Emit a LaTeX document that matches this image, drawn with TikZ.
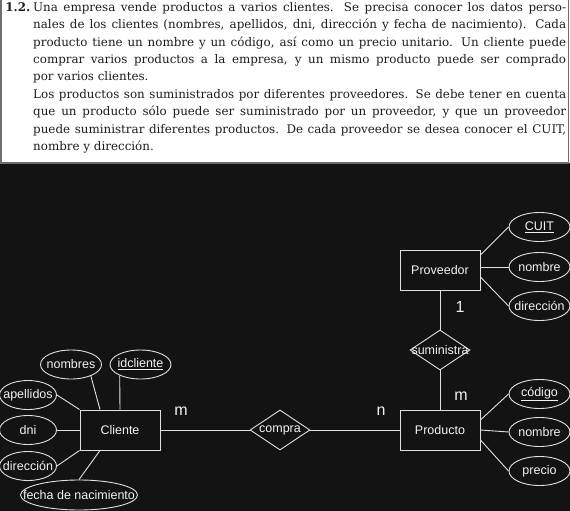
\documentclass[tikz,border=0pt]{standalone}
\usepackage{fontspec}
\setsansfont{Liberation Sans}
\newfontfamily\enunciadofont{DejaVu Serif}
\usetikzlibrary{
  shapes.geometric,
  positioning,
  calc
}
\definecolor{fondocolor}{RGB}{19, 19, 19}
\definecolor{trazocolor}{RGB}{225, 225, 225}
\definecolor{textocolor}{RGB}{242, 242, 242}
\definecolor{bordecolor}{RGB}{110, 110, 110}
\definecolor{enunciadocolor}{RGB}{30, 30, 30}
\newcommand{\etq}[1]{\makebox[0pt]{#1}}
\newcommand{\renglon}[1]{\hbox to 533pt{#1}}
\tikzset{
erfont/.style={
  font=\sffamily\fontsize{12.5}{14}\selectfont,
  text=textocolor
},
entidad/.style={
  draw=trazocolor,
  line width=0.9pt,
  minimum width=80pt,
  minimum height=40pt,
  inner sep=0pt,
  erfont
},
relacion/.style={
  diamond,
  draw=trazocolor,
  line width=0.9pt,
  minimum width=60pt,
  minimum height=40pt,
  inner sep=0pt,
  erfont
},
atributo/.style={
  ellipse,
  draw=trazocolor,
  line width=0.9pt,
  minimum width=61pt,
  minimum height=29pt,
  inner sep=0pt,
  erfont
},
cardinal/.style={
  font=\sffamily\fontsize{16}{18}\selectfont,
  text=textocolor
},
enunciado/.style={
  text width=533pt,
  inner sep=0pt,
  align=justify,
  font=\enunciadofont\fontsize{11.9}{17.4}\selectfont,
  text=enunciadocolor
},
conector/.style={
  draw=trazocolor,
  line width=0.9pt
}
}

\begin{document}
\begin{tikzpicture}[x=1pt, y=-1pt]
  \useasboundingbox (0,0) rectangle (570,511);
  % enunciado
  \fill[white] (0,0) rectangle (570,163);
  \fill[fondocolor] (0,163) rectangle (570,511);
  \draw[bordecolor, line width=1.2pt] (1,-5) rectangle (568.5,163);
  \node[enunciado, anchor=north west] (texto) at (33,2) {%
    \renglon{\llap{\textbf{1.2.}\hspace{3pt}}Una empresa vende productos a varios clientes. Se precisa conocer los datos perso-}\par
    \renglon{nales de los clientes (nombres, apellidos, dni, dirección y fecha de nacimiento). Cada}\par
    \renglon{producto tiene un nombre y un código, así como un precio unitario. Un cliente puede}\par
    \renglon{comprar varios productos a la empresa, y un mismo producto puede ser comprado}\par
    por varios clientes.\par
    \renglon{Los productos son suministrados por diferentes proveedores. Se debe tener en cuenta}\par
    \renglon{que un producto sólo puede ser suministrado por un proveedor, y que un proveedor}\par
    \renglon{puede suministrar diferentes productos. De cada proveedor se desea conocer el CUIT,}\par
    nombre y dirección.};

  % entidades y relaciones
  \node[entidad] (cliente) at (120,430) {Cliente};
  \node[entidad] (producto) at (440,430) {Producto};
  \node[entidad] (proveedor) at (440,270) {Proveedor};
  \node[relacion] (compra) at (280,430) {\etq{compra}};
  \node[relacion] (suministra) at (440,350) {\etq{suministra}};

  % atributos de Cliente
  \node[atributo] (nombres) at (71,364.5) {\etq{nombres}};
  \node[atributo] (idcliente) at (140.5,364.5) {\etq{\underline{idcliente}}};
  \node[atributo, minimum width=57pt] (apellidos) at (28,395) {\etq{apellidos}};
  \node[atributo, minimum width=57pt] (dni) at (28,430) {\etq{dni}};
  \node[atributo, minimum width=57pt] (direccioncli) at (28,466) {\etq{dirección}};
  \node[atributo, minimum width=117pt, minimum height=30pt] (nacimiento) at (79,495) {\etq{fecha de nacimiento}};

  % atributos de Producto
  \node[atributo] (codigo) at (539.5,394) {\etq{\underline{código}}};
  \node[atributo] (nombreprod) at (539.5,432) {\etq{nombre}};
  \node[atributo] (precio) at (539.5,471) {\etq{precio}};

  % atributos de Proveedor
  \node[atributo] (cuit) at (539.5,227) {\etq{\underline{CUIT}}};
  \node[atributo] (nombreprov) at (539.5,267) {\etq{nombre}};
  \node[atributo] (direccionprov) at (539.5,306) {\etq{dirección}};

  % conectores
  \draw[conector] (cliente) -- (compra);
  \draw[conector] (compra) -- (producto);
  \draw[conector] (proveedor) -- (suministra);
  \draw[conector] (suministra) -- (producto);

  \draw[conector] (nombres.-30) -- ([xshift=-20pt]cliente.north);
  \draw[conector] (idcliente.208) -- (cliente.north);
  \draw[conector] (apellidos.east) -- (cliente.north west);
  \draw[conector] (dni) -- (cliente);
  \draw[conector] (direccioncli.east) -- (cliente.south west);
  \draw[conector] (nacimiento.north) -- ([xshift=-20pt]cliente.south);

  \draw[conector] (codigo.west) -- ([yshift=10pt]producto.east);
  \draw[conector] (nombreprod.west) -- (producto.east);
  \draw[conector] (precio.west) -- ([yshift=-10pt]producto.east);

  \draw[conector] (cuit.west) -- ([yshift=15pt]proveedor.east);
  \draw[conector] (nombreprov.west) -- ([yshift=3pt]proveedor.east);
  \draw[conector] (direccionprov.west) -- ([yshift=-7pt]proveedor.east);

  % cardinalidades
  \node[cardinal] (mcli) at (181,411) {m};
  \node[cardinal] (nprod) at (381,411) {n};
  \node[cardinal] (unoprov) at (460,307) {1};
  \node[cardinal] (mprod) at (461,396) {m};
\end{tikzpicture}
\end{document}
